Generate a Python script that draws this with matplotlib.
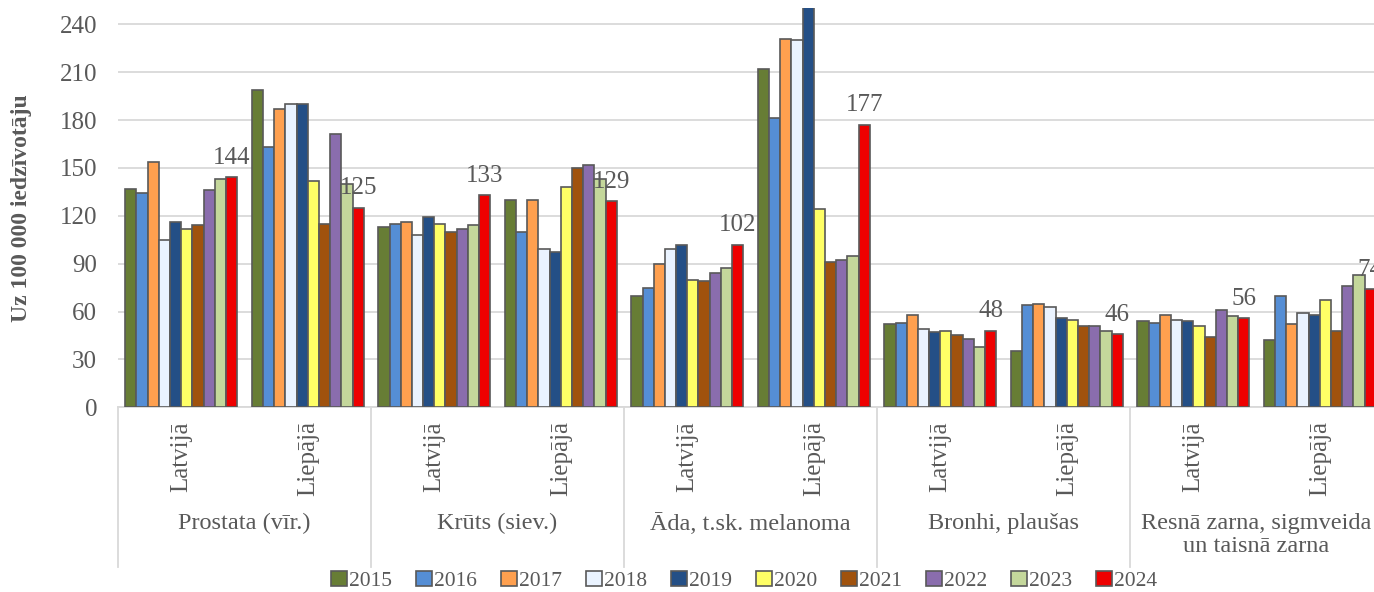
import matplotlib
matplotlib.use("Agg")
import matplotlib.pyplot as plt
import numpy as np

plt.rcParams["font.family"] = ["Liberation Serif", "DejaVu Serif"]

# Dati: uz 100 000 iedzīvotāju
grupas = ["Prostata (vīr.)", "Krūts (siev.)", "Āda, t.sk. melanoma",
          "Bronhi, plaušas", "Resnā zarna, sigmveida\nun taisnā zarna"]
vietas = ["Latvijā", "Liepājā"]
gadi = ["2015", "2016", "2017", "2018", "2019", "2020", "2021", "2022", "2023", "2024"]
krasas = ["#677D35", "#558ED5", "#FFA04F", "#EAF3FF", "#244F86",
          "#FFFF66", "#A0520D", "#8A6DAD", "#C4D79B", "#EE0000"]

# katra rinda = viena apakškategorija (grupa x vieta), kolonnas = gadi
prostata_lv = [137, 134, 154, 105, 116, 112, 114, 136, 143, 144]
prostata_li = [199, 163, 187, 190, 190, 142, 115, 171, 140, 125]
kruts_lv = [113, 115, 116, 108, 119, 115, 110, 112, 114, 133]
kruts_li = [130, 110, 130, 99, 97, 138, 150, 152, 143, 129]
ada_lv = [70, 75, 90, 99, 102, 80, 79, 84, 87, 102]
ada_li = [212, 181, 231, 230, 260, 124, 91, 92, 95, 177]
bronhi_lv = [52, 53, 58, 49, 47, 48, 45, 43, 38, 48]
bronhi_li = [35, 64, 65, 63, 56, 55, 51, 51, 48, 46]
zarna_lv = [54, 53, 58, 55, 54, 51, 44, 61, 57, 56]
zarna_li = [42, 70, 52, 59, 58, 67, 48, 76, 83, 74]

vertibas = np.array([prostata_lv, prostata_li, kruts_lv, kruts_li, ada_lv,
                     ada_li, bronhi_lv, bronhi_li, zarna_lv, zarna_li])

teksts = "#595959"

fig = plt.figure(figsize=(13.74, 5.92), dpi=100)
ax = fig.add_axes([0.0859, 0.312, 0.9207, 0.674])

x = np.arange(vertibas.shape[0])
w = 0.0885
for j, gads in enumerate(gadi):
    ax.bar(x + (j - 4.5) * w, vertibas[:, j], width=w, color=krasas[j],
           edgecolor="#595959", linewidth=1.2, label=gads, zorder=3)

# vērtības 2024. gadam
for i in x:
    ax.annotate(str(vertibas[i, -1]), (i + 4.5 * w, vertibas[i, -1]),
                xytext=(0, 6), textcoords="offset points", ha="center",
                va="bottom", fontsize=18, color=teksts, zorder=4)

ax.set_ylim(0, 250)
ax.set_xlim(-0.5, len(x) - 0.5)
ax.set_yticks(np.arange(0, 241, 30))
ax.yaxis.grid(True, color="#D9D9D9", linewidth=1.3, zorder=0)
ax.tick_params(axis="y", length=0, pad=15, labelsize=18, labelcolor=teksts)
for s in ["top", "right", "left"]:
    ax.spines[s].set_visible(False)
ax.spines["bottom"].set_color("#D9D9D9")
ax.spines["bottom"].set_linewidth(1.3)

ax.set_xticks(x)
ax.set_xticklabels(vietas * len(grupas), rotation=90, fontsize=18, color=teksts)
ax.tick_params(axis="x", length=0, pad=10)

ax.set_ylabel("Uz 100 000 iedzīvotāju", fontsize=17, fontweight="bold",
              color=teksts)
ax.yaxis.set_label_coords(-0.068, 0.5)

tr = ax.get_xaxis_transform()
for k, g in enumerate(grupas):
    ax.text(2 * k + 0.5, -0.265, g, transform=tr, ha="center", va="top",
            fontsize=17.5, color=teksts, linespacing=1.15)
for b in np.arange(-0.5, len(x), 2):
    ax.plot([b, b], [0, -0.40], transform=tr, color="#D9D9D9",
            linewidth=1.3, clip_on=False)

ax.legend(loc="center", bbox_to_anchor=(0.495, -0.435), ncol=10, frameon=False,
          fontsize=15.5, handlelength=0.75, handleheight=0.75, handletextpad=0.1,
          columnspacing=1.1, labelcolor=teksts, borderaxespad=0)

fig.savefig("out.png", dpi=100)
